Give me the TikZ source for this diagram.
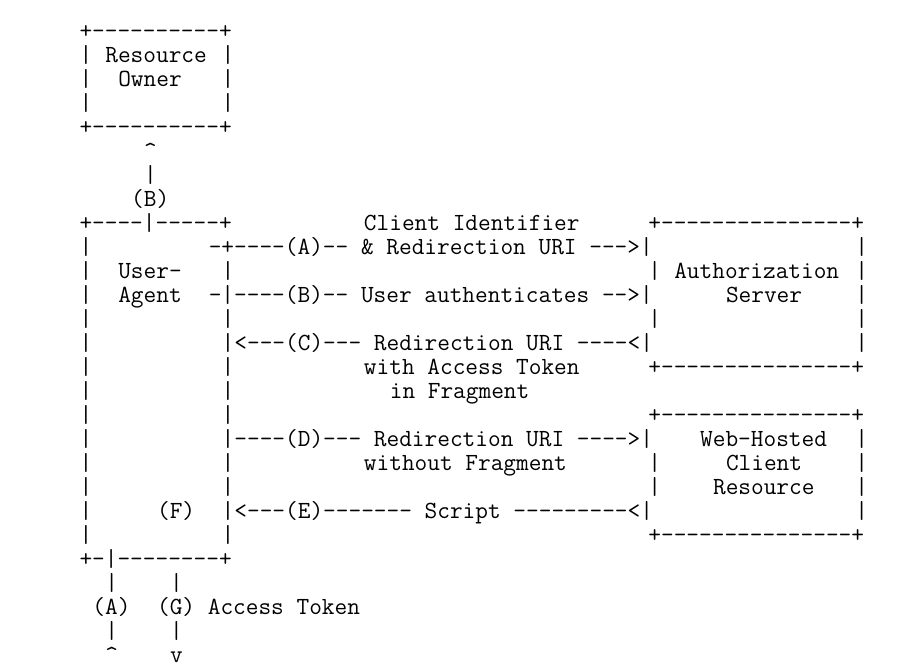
\documentclass[tikz,border=0pt]{standalone}
\usepackage{fontspec}
\begin{document}
\begin{tikzpicture}[x=1pt,y=1pt,
  asc/.style={anchor=base west,inner sep=0pt,outer sep=0pt,text=black,
    font=\ttfamily\fontsize{24.63pt}{24pt}\selectfont}]
\useasboundingbox[fill=white] (0,0) rectangle (908,-671);
\newcommand\asc[3]{\node[asc] (r#1c#2) at ({79.5+12.93*#2},{-(28+24*#1)-10.5}) {#3};}
% Resource Owner box
\asc{0}{0}{+----------+}
\asc{1}{0}{|}\asc{1}{2}{Resource}\asc{1}{11}{|}
\asc{2}{0}{|}\asc{2}{3}{Owner}\asc{2}{11}{|}
\asc{3}{0}{|}\asc{3}{11}{|}
\asc{4}{0}{+----------+}
\asc{5}{5}{\textasciicircum}
\asc{6}{5}{|}
\asc{7}{4}{(B)}
% User-Agent and servers
\asc{8}{0}{+----|-----+}\asc{8}{22}{Client Identifier}\asc{8}{44}{+---------------+}
\asc{9}{0}{|}\asc{9}{10}{-+----(A)-- \& Redirection URI --->|}\asc{9}{60}{|}
\asc{10}{0}{|}\asc{10}{3}{User-}\asc{10}{11}{|}\asc{10}{44}{|}\asc{10}{46}{Authorization}\asc{10}{60}{|}
\asc{11}{0}{|}\asc{11}{3}{Agent}\asc{11}{10}{-|----(B)-- User authenticates -->|}\asc{11}{50}{Server}\asc{11}{60}{|}
\asc{12}{0}{|}\asc{12}{11}{|}\asc{12}{44}{|}\asc{12}{60}{|}
\asc{13}{0}{|}\asc{13}{11}{|<---(C)--- Redirection URI ----<|}\asc{13}{60}{|}
\asc{14}{0}{|}\asc{14}{11}{|}\asc{14}{22}{with Access Token}\asc{14}{44}{+---------------+}
\asc{15}{0}{|}\asc{15}{11}{|}\asc{15}{24}{in Fragment}
\asc{16}{0}{|}\asc{16}{11}{|}\asc{16}{44}{+---------------+}
\asc{17}{0}{|}\asc{17}{11}{|----(D)--- Redirection URI ---->|}\asc{17}{48}{Web-Hosted}\asc{17}{60}{|}
\asc{18}{0}{|}\asc{18}{11}{|}\asc{18}{22}{without Fragment}\asc{18}{44}{|}\asc{18}{50}{Client}\asc{18}{60}{|}
\asc{19}{0}{|}\asc{19}{11}{|}\asc{19}{44}{|}\asc{19}{49}{Resource}\asc{19}{60}{|}
\asc{20}{0}{|}\asc{20}{6}{(F)}\asc{20}{11}{|<---(E)------- Script ---------<|}\asc{20}{60}{|}
\asc{21}{0}{|}\asc{21}{11}{|}\asc{21}{44}{+---------------+}
\asc{22}{0}{+-|--------+}
\asc{23}{2}{|}\asc{23}{7}{|}
\asc{24}{1}{(A)}\asc{24}{6}{(G) Access Token}
\asc{25}{2}{|}\asc{25}{7}{|}
\asc{26}{2}{\textasciicircum}\asc{26}{7}{v}
\end{tikzpicture}
\end{document}
